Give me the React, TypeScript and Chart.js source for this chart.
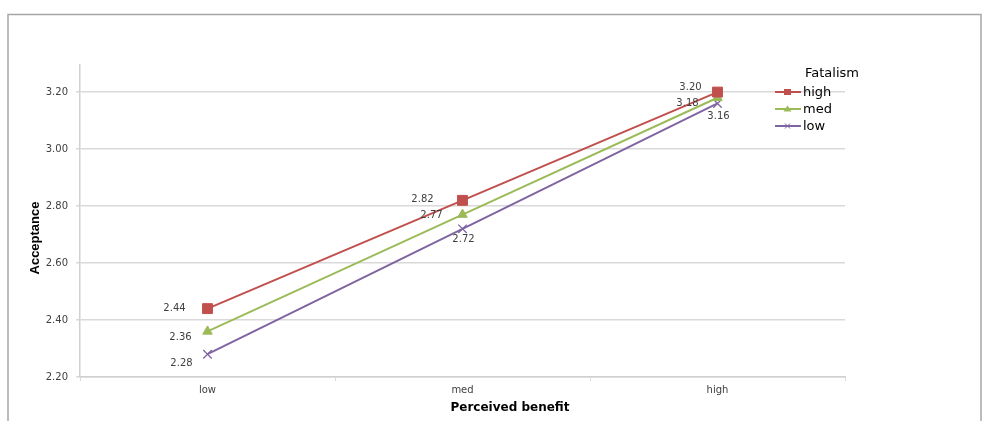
import React, { useEffect, useRef } from "react";
import { Chart, registerables } from "chart.js";

Chart.register(...registerables);

const categories = ["low", "med", "high"];
const seriesNames = ["high", "med", "low"];
const highValues = [2.44, 2.82, 3.2];
const medValues = [2.36, 2.77, 3.18];
const lowValues = [2.28, 2.72, 3.16];
const yTickValues = [2.2, 2.4, 2.6, 2.8, 3.0, 3.2];
const legendTitle = "Fatalism";
const xTitle = "Perceived benefit";
const yTitle = "Acceptance";

const colors = ["#C0504D", "#9BBB59", "#8064A2"];
const pointStyles = ["rect", "triangle", "crossRot"];
// label offsets (dx, dy) from point centre, per series / point
const labelOffsets = [
  [[-33, 0], [-40, -1], [-27, -5]],
  [[-27, 6], [-31, 1], [-30, 6]],
  [[-26, 9], [1, 11], [1, 13]],
];

const CHART_LEFT = 80;
const CHART_RIGHT = 845;
const CHART_TOP = 65;
const CHART_BOTTOM = 377;
const W = 993;
const H = 445;

const decorPlugin = {
  id: "decor",
  beforeDraw(chart: any) {
    const ctx = chart.ctx;
    ctx.save();
    ctx.fillStyle = "#ffffff";
    ctx.fillRect(0, 0, W, H);
    ctx.strokeStyle = "#a6a6a6";
    ctx.lineWidth = 1.5;
    ctx.beginPath();
    ctx.moveTo(8, 421);
    ctx.lineTo(8, 14.5);
    ctx.lineTo(981, 14.5);
    ctx.lineTo(981, 421);
    ctx.stroke();
    ctx.restore();
  },
  afterDraw(chart: any) {
    const ctx = chart.ctx;
    ctx.save();
    // data labels
    ctx.font = "10px 'DejaVu Sans'";
    ctx.fillStyle = "#404040";
    ctx.textAlign = "center";
    ctx.textBaseline = "middle";
    chart.data.datasets.forEach((ds: any, di: number) => {
      const meta = chart.getDatasetMeta(di);
      meta.data.forEach((pt: any, i: number) => {
        const off = labelOffsets[di][i];
        ctx.fillText(Number(ds.data[i]).toFixed(2), pt.x + off[0], pt.y + off[1]);
      });
    });
    // axis titles
    ctx.fillStyle = "#000000";
    ctx.font = "bold 12px 'DejaVu Sans'";
    ctx.fillText(xTitle, 510, 408);
    ctx.save();
    ctx.translate(35, 238);
    ctx.rotate(-Math.PI / 2);
    ctx.font = "bold 13px 'Liberation Sans Narrow', 'Liberation Sans'";
    ctx.fillText(yTitle, 0, 0);
    ctx.restore();
    // legend
    ctx.textAlign = "left";
    ctx.font = "13px 'DejaVu Sans'";
    ctx.fillStyle = "#000000";
    ctx.fillText(legendTitle, 805, 74);
    const ys = [92, 109, 126];
    seriesNames.forEach((name, i) => {
      const y = ys[i];
      ctx.strokeStyle = colors[i];
      ctx.lineWidth = 2;
      ctx.beginPath();
      ctx.moveTo(775, y);
      ctx.lineTo(801, y);
      ctx.stroke();
      ctx.fillStyle = colors[i];
      if (pointStyles[i] === "rect") {
        ctx.fillRect(784, y - 3, 7, 6);
      } else if (pointStyles[i] === "triangle") {
        ctx.beginPath();
        ctx.moveTo(787.5, y - 3.5);
        ctx.lineTo(791.5, y + 2.5);
        ctx.lineTo(783.5, y + 2.5);
        ctx.closePath();
        ctx.fill();
      } else {
        ctx.beginPath();
        ctx.moveTo(785, y - 2.5);
        ctx.lineTo(790, y + 2.5);
        ctx.moveTo(790, y - 2.5);
        ctx.lineTo(785, y + 2.5);
        ctx.lineWidth = 1;
        ctx.stroke();
      }
      ctx.fillStyle = "#000000";
      ctx.fillText(name, 803, y + 1);
    });
    ctx.restore();
  },
};

export default function App() {
  const ref = useRef<HTMLCanvasElement>(null);
  useEffect(() => {
    if (!ref.current) return;
    const allValues = [highValues, medValues, lowValues];
    const chart = new Chart(ref.current, {
      type: "line",
      data: {
        labels: categories,
        datasets: seriesNames.map((name, i) => ({
          label: name,
          data: allValues[i],
          borderColor: colors[i],
          backgroundColor: colors[i],
          borderWidth: 2,
          pointStyle: pointStyles[i] as any,
          pointRadius: i === 0 ? 7 : i === 1 ? 5.5 : 6,
          pointBorderWidth: i === 2 ? 1.3 : 1,
          pointBackgroundColor: colors[i],
          pointBorderColor: colors[i],
          tension: 0,
        })),
      },
      options: {
        animation: false,
        responsive: false,
        devicePixelRatio: 1,
        layout: {
          padding: { left: 0, top: CHART_TOP, right: W - CHART_RIGHT, bottom: 0 },
        },
        plugins: {
          legend: { display: false },
          tooltip: { enabled: false },
          title: { display: false },
        },
        scales: {
          x: {
            type: "category",
            offset: true,
            afterFit: (s: any) => {
              s.height = H - CHART_BOTTOM;
            },
            grid: {
              offset: true,
              drawOnChartArea: false,
              drawTicks: true,
              tickLength: 4,
              color: "#d9d9d9",
            },
            border: { color: "#d0d0d0", width: 1.5 },
            ticks: {
              color: "#404040",
              font: { family: "'DejaVu Sans'", size: 10 },
              padding: 3,
            },
          },
          y: {
            type: "linear",
            min: 2.2,
            max: 3.295,
            afterFit: (s: any) => {
              s.width = CHART_LEFT;
            },
            afterBuildTicks: (s: any) => {
              s.ticks = yTickValues.map((v) => ({ value: v }));
            },
            grid: {
              color: "#d9d9d9",
              lineWidth: 1.5,
              tickLength: 4,
            },
            border: { color: "#d0d0d0", width: 1.5 },
            ticks: {
              color: "#404040",
              font: { family: "'DejaVu Sans'", size: 10 },
              padding: 8,
              callback: (v: any) => Number(v).toFixed(2),
            },
          },
        },
      },
      plugins: [decorPlugin],
    });
    return () => chart.destroy();
  }, []);
  return (
    <canvas
      ref={ref}
      width={W}
      height={H}
      style={{ position: "absolute", left: 0, top: 0, width: W, height: H }}
    />
  );
}
